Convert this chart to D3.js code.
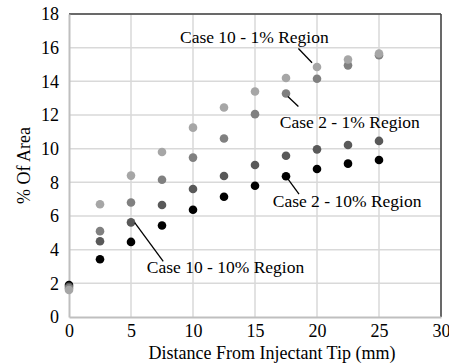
<!DOCTYPE html>
<html>
<head>
<meta charset="utf-8">
<script src="https://cdn.jsdelivr.net/npm/d3@7"></script>
<style>
  body { margin: 0; background: #fff; }
  svg, svg text { font-family: "Liberation Serif", "Times New Roman", "DejaVu Serif", serif !important; }
</style>
</head>
<body>
<div id="chart"></div>
<script>
"use strict";

// distances along the jet (mm)
const distances = [0, 2.5, 5, 7.5, 10, 12.5, 15, 17.5, 20, 22.5, 25];

// % of area for each case / region
const case10_1 = [1.6, 6.7, 8.4, 9.8, 11.25, 12.45, 13.4, 14.2, 14.85, 15.3, 15.65];
const case2_1 = [1.7, 5.1, 6.8, 8.15, 9.47, 10.6, 12.05, 13.28, 14.15, 14.95, 15.55];
const case10_10 = [1.8, 4.5, 5.62, 6.65, 7.6, 8.38, 9.03, 9.58, 9.96, 10.22, 10.46];
const case2_10 = [1.9, 3.43, 4.46, 5.44, 6.37, 7.14, 7.8, 8.36, 8.79, 9.11, 9.33];

const xTicks = [0, 5, 10, 15, 20, 25, 30];
const yTicks = [0, 2, 4, 6, 8, 10, 12, 14, 16, 18];

// drawn darkest first so the lighter dots sit on top where they overlap
const series = [
    { name: "Case 2 - 10% Region", values: case2_10, color: "#000000" },
    { name: "Case 10 - 10% Region", values: case10_10, color: "#595959" },
    { name: "Case 2 - 1% Region", values: case2_1, color: "#808080" },
    { name: "Case 10 - 1% Region", values: case10_1, color: "#a6a6a6" }
];

// set the dimensions and margins of the graph
const W = 449, H = 363;
const margin = { top: 14, right: 8, bottom: 46, left: 69 };
const width = W - margin.left - margin.right,
    height = H - margin.top - margin.bottom;

const svg = d3.select("#chart")
    .append("svg")
    .attr("width", W)
    .attr("height", H);

const g = svg.append("g")
    .attr("transform", `translate(${margin.left},${margin.top})`);

const x = d3.scaleLinear().domain([0, 30]).range([0, width]);
const y = d3.scaleLinear().domain([0, 18]).range([height, 0]);

// gridlines
g.append("g")
    .selectAll("line")
    .data(yTicks.slice(1))
    .join("line")
    .attr("x1", 0).attr("x2", width)
    .attr("y1", d => y(d)).attr("y2", d => y(d))
    .attr("stroke", "#d9d9d9").attr("stroke-width", 1.5);

g.append("g")
    .selectAll("line")
    .data(xTicks.slice(1))
    .join("line")
    .attr("y1", 0).attr("y2", height)
    .attr("x1", d => x(d)).attr("x2", d => x(d))
    .attr("stroke", "#d9d9d9").attr("stroke-width", 1.5);

// frame: dark top/right, gray axes on left/bottom
g.append("line").attr("x1", 0).attr("x2", width).attr("y1", 0).attr("y2", 0)
    .attr("stroke", "#404040").attr("stroke-width", 1.5);
g.append("line").attr("x1", width).attr("x2", width).attr("y1", 0).attr("y2", height)
    .attr("stroke", "#404040").attr("stroke-width", 1.5);

const xAxis = g.append("g")
    .attr("transform", `translate(0,${height})`)
    .call(d3.axisBottom(x).tickValues(xTicks).tickSize(0).tickPadding(7));
const yAxis = g.append("g")
    .call(d3.axisLeft(y).tickValues(yTicks).tickSize(0).tickPadding(10));

[xAxis, yAxis].forEach(a => {
    a.attr("font-family", null);
    a.select(".domain").attr("stroke", "#bfbfbf").attr("stroke-width", 2);
    a.selectAll("text")
        .attr("font-size", 18)
        .attr("fill", "#000");
});

// points
series.forEach(s => {
    g.append("g")
        .selectAll("circle")
        .data(s.values.map((v, i) => ({ x: distances[i], y: v })))
        .join("circle")
        .attr("cx", d => x(d.x))
        .attr("cy", d => y(d.y))
        .attr("r", 4.3)
        .attr("fill", s.color);
});

// callouts: label position in data units + the point it points to
const callouts = [
    { text: "Case 10 - 1% Region", lx: 8.95, ly: 16.3, from: [18.5, 15.95], to: [19.6, 15.1] },
    { text: "Case 2 - 1% Region", lx: 17, ly: 11.25, from: [18.5, 12.5], to: [17.65, 13.1] },
    { text: "Case 2 - 10% Region", lx: 16.43, ly: 6.53, from: [18.55, 7.3], to: [17.65, 8.2] },
    { text: "Case 10 - 10% Region", lx: 6.27, ly: 2.6, from: [7.6, 3.3], to: [5.3, 5.6] }
];

g.append("g")
    .selectAll("line")
    .data(callouts)
    .join("line")
    .attr("x1", d => x(d.from[0])).attr("y1", d => y(d.from[1]))
    .attr("x2", d => x(d.to[0])).attr("y2", d => y(d.to[1]))
    .attr("stroke", "#000").attr("stroke-width", 1.3);

g.append("g")
    .selectAll("text")
    .data(callouts)
    .join("text")
    .attr("x", d => x(d.lx))
    .attr("y", d => y(d.ly))
    .attr("font-size", 17.5)
    .text(d => d.text);

// axis titles
svg.append("text")
    .attr("x", 272)
    .attr("y", 359)
    .attr("text-anchor", "middle")
    .attr("font-size", 18)
    .text("Distance From Injectant Tip (mm)");

svg.append("text")
    .attr("transform", `translate(30,${margin.top + height / 2}) rotate(-90)`)
    .attr("text-anchor", "middle")
    .attr("font-size", 18)
    .text("% Of Area");
</script>
</body>
</html>
